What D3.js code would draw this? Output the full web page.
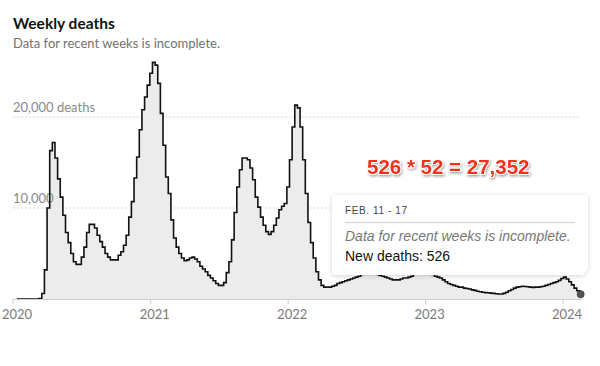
<!DOCTYPE html>
<html>
<head>
<meta charset="utf-8">
<title>Weekly deaths</title>
<script src="https://d3js.org/d3.v7.min.js"></script>
<style>
  body { margin: 0; background: #fff; }
  svg { display: block; }
  .title { font-family: Lato, "Noto Sans", sans-serif; font-weight: 700; font-size: 15.5px; fill: #121212; }
  .subtitle { font-family: Lato, "Noto Sans", sans-serif; font-size: 13px; fill: #727272; }
  .ylabel { font-family: Lato, "Noto Sans", sans-serif; font-size: 13px; fill: #8a8a8a; }
  .xlabel { font-family: Lato, "Noto Sans", sans-serif; font-size: 13px; fill: #7a7a7a; }
  .tip-head { font-family: "Liberation Sans", Arial, sans-serif; font-size: 10px; letter-spacing: 0.6px; fill: #444; }
  .tip-note { font-family: "Liberation Sans", Arial, sans-serif; font-size: 14px; font-style: italic; fill: #777; }
  .tip-val { font-family: "Liberation Sans", Arial, sans-serif; font-size: 14px; fill: #111; }
  .calc { font-family: "Liberation Sans", Arial, sans-serif; font-weight: 700; font-size: 20.5px; fill: #f0321e;
          stroke: #fff; stroke-width: 2px; paint-order: stroke; }
</style>
</head>
<body>
<div id="chart"></div>
<script>
// weekly new deaths, one value per week, first week ends 2020-01-11
const firstWeekEnd = "2020-01-11";
const deaths = [
  0, 0, 0, 0, 0, 0, 0, 0, 0, 50, 600, 3200, 10000, 16300,
  17200, 15500, 13200, 11200, 9200, 7300, 6200, 5000, 4100, 3800, 3800, 4600,
  5700, 7300, 8200, 8200, 7800, 7000, 6300, 5700, 5000, 4600, 4300, 4300,
  4300, 4800, 5200, 5900, 7000, 9000, 10700, 13300, 15600, 18600, 20800, 22200,
  23500, 24800, 26000, 25700, 23700, 20400, 16900, 13400, 11600, 8700, 6700, 5700,
  5000, 4500, 4200, 4300, 4500, 4600, 4400, 4100, 3600, 3300, 3000, 2600,
  2300, 2000, 1700, 1500, 1500, 1800, 2900, 4100, 6500, 9500, 12300, 14200,
  15500, 15500, 15300, 14400, 13100, 11200, 10100, 9000, 8100, 7400, 7100, 7400,
  8100, 8900, 9800, 10200, 10500, 12300, 15300, 18900, 21300, 21000, 18900, 15300,
  11600, 8400, 6200, 4500, 3000, 2100, 1500, 1300, 1300, 1300, 1400, 1500,
  1700, 1800, 1900, 2000, 2100, 2200, 2300, 2400, 2500, 2700, 2800, 2900,
  2900, 2800, 2800, 2700, 2600, 2500, 2400, 2300, 2200, 2100, 2100, 2100,
  2200, 2300, 2300, 2400, 2500, 2800, 3100, 3400, 3600, 3700, 3500, 3200,
  2700, 2500, 2400, 2300, 2100, 1900, 1700, 1600, 1500, 1400, 1300, 1300,
  1200, 1150, 1100, 1000, 950, 850, 800, 750, 700, 680, 650, 620,
  580, 550, 550, 620, 750, 900, 1050, 1200, 1300, 1350, 1400, 1380,
  1350, 1300, 1280, 1300, 1300, 1350, 1400, 1500, 1600, 1700, 1800, 1900,
  2050, 2250, 2400, 2200, 1900, 1550, 1200, 900, 526
];
const yTicks = [10000, 20000];
const yTickLabels = ["10,000", "20,000 deaths"];
const xYears = [2020, 2021, 2022, 2023, 2024];
const tipHead = "FEB. 11 - 17";
const tipNote = "Data for recent weeks is incomplete.";
const tipValue = "New deaths: 526";
const calcText = "526 * 52 = 27,352";

const width = 600, height = 366;

const start = d3.isoParse(firstWeekEnd);
const data = deaths.map((v, i) => ({ date: d3.timeDay.offset(start, 7 * i), value: v }));
const last = data[data.length - 1];

const x = d3.scaleUtc()
  .domain([new Date(Date.UTC(2020, 0, 1)), new Date(Date.UTC(2024, 0, 1))])
  .range([13, 563]);
const y = d3.scaleLinear().domain([0, 20000]).range([299, 117]);

const svg = d3.select("#chart").append("svg")
  .attr("width", width).attr("height", height);

const defs = svg.append("defs");
const shadow = defs.append("filter").attr("id", "tipShadow")
  .attr("x", "-10%").attr("y", "-20%").attr("width", "120%").attr("height", "150%");
shadow.append("feDropShadow").attr("dx", 0).attr("dy", 1).attr("stdDeviation", 2.5)
  .attr("flood-color", "#000").attr("flood-opacity", 0.18);
const textShadow = defs.append("filter").attr("id", "textShadow")
  .attr("x", "-10%").attr("y", "-30%").attr("width", "120%").attr("height", "170%");
textShadow.append("feDropShadow").attr("dx", 1).attr("dy", 1.5).attr("stdDeviation", 1.2)
  .attr("flood-color", "#000").attr("flood-opacity", 0.35);

// header
svg.append("text").attr("class", "title").attr("x", 13).attr("y", 29).text("Weekly deaths");
svg.append("text").attr("class", "subtitle").attr("x", 13).attr("y", 48).text("Data for recent weeks is incomplete.");

const xEnd = x(last.date);

// gridlines
svg.append("g").selectAll("line")
  .data(yTicks)
  .join("line")
  .attr("x1", 13).attr("x2", xEnd)
  .attr("y1", d => y(d)).attr("y2", d => y(d))
  .attr("stroke", "#d9d9d9")
  .attr("stroke-dasharray", "2,2");

// area + line
const area = d3.area()
  .x(d => x(d.date)).y0(y(0)).y1(d => y(d.value))
  .curve(d3.curveStep);
const line = d3.line()
  .x(d => x(d.date)).y(d => y(d.value))
  .curve(d3.curveStep);

svg.append("path").datum(data).attr("d", area).attr("fill", "#ececec");

svg.append("g").selectAll("text")
  .data(yTicks)
  .join("text")
  .attr("class", "ylabel")
  .attr("x", 13).attr("y", d => y(d) - 5)
  .text((d, i) => yTickLabels[i]);

svg.append("path").datum(data).attr("d", line)
  .attr("fill", "none").attr("stroke", "#111").attr("stroke-width", 1.6)
  .attr("stroke-linejoin", "miter");

// x axis
svg.append("line")
  .attr("x1", 13).attr("x2", xEnd + 2)
  .attr("y1", y(0) + 0.5).attr("y2", y(0) + 0.5)
  .attr("stroke", "#ccc");
const xt = svg.append("g").selectAll("g")
  .data(xYears)
  .join("g")
  .attr("transform", d => `translate(${x(new Date(Date.UTC(d, 0, 1)))},0)`);
xt.append("line").attr("y1", y(0)).attr("y2", y(0) + 5).attr("stroke", "#ccc");
xt.append("text").attr("class", "xlabel")
  .attr("x", 4).attr("y", 319).attr("text-anchor", "middle")
  .text(d => d);

// last point
svg.append("circle")
  .attr("cx", x(last.date)).attr("cy", y(last.value)).attr("r", 3.5)
  .attr("fill", "#555").attr("stroke", "#333").attr("stroke-width", 0.8);

// tooltip
const tip = svg.append("g").attr("transform", "translate(332,195)");
tip.append("path")
  .attr("d", "M3,0 H253 Q256,0 256,3 V73 L251,80 H3 Q0,80 0,77 V3 Q0,0 3,0 Z")
  .attr("fill", "#fff").attr("filter", "url(#tipShadow)");
tip.append("text").attr("class", "tip-head").attr("x", 13).attr("y", 19).text(tipHead);
tip.append("line").attr("x1", 13).attr("x2", 243).attr("y1", 27.5).attr("y2", 27.5)
  .attr("stroke", "#ddd").attr("stroke-width", 1.5);
tip.append("text").attr("class", "tip-note").attr("x", 13).attr("y", 46).text(tipNote);
tip.append("text").attr("class", "tip-val").attr("x", 13).attr("y", 66).text(tipValue);

// annotation
svg.append("text").attr("class", "calc")
  .attr("x", 367).attr("y", 174)
  .attr("filter", "url(#textShadow)")
  .text(calcText);
</script>
</body>
</html>
